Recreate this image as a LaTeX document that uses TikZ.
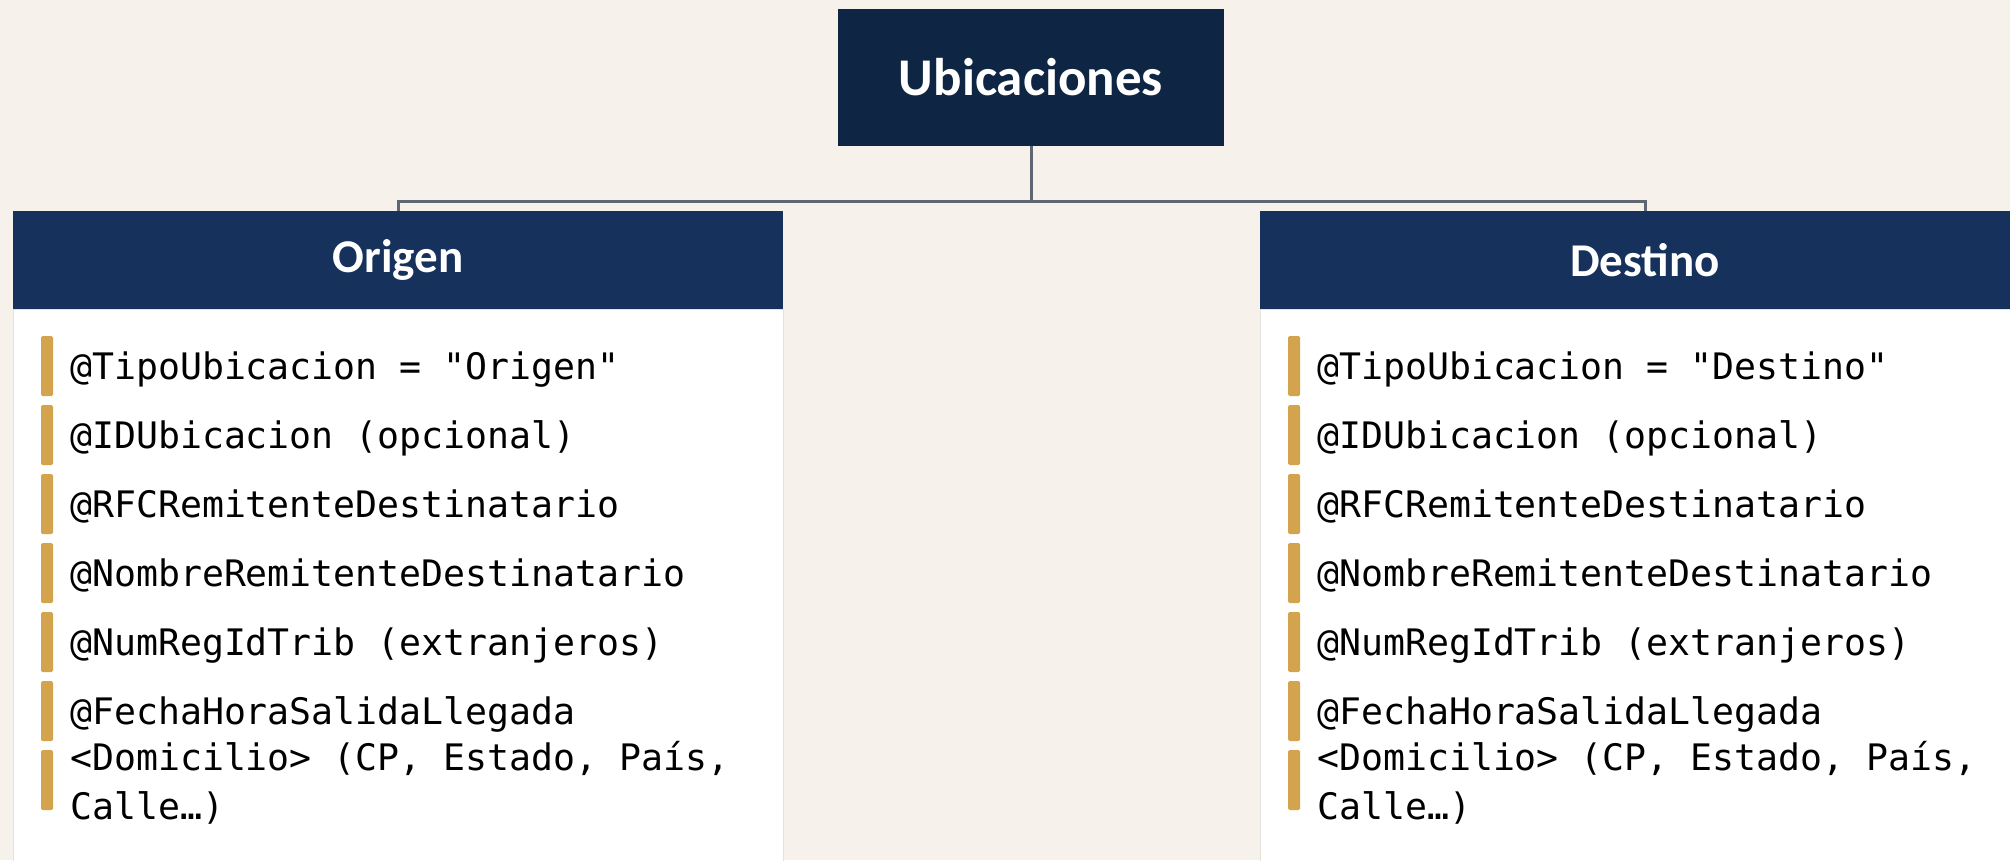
\documentclass[tikz,border=0pt]{standalone}
\usepackage{fontspec}
\newfontfamily\headfont{Carlito}
\newfontfamily\codefont{DejaVu Sans Mono}

\definecolor{pagebg}{HTML}{F6F1EB}
\definecolor{topnavy}{HTML}{0E2644}
\definecolor{headnavy}{HTML}{16315C}
\definecolor{bargold}{HTML}{D4A34E}
\definecolor{linkgray}{HTML}{5F6772}
\definecolor{edgegray}{HTML}{E6E1DA}

\begin{document}
\begin{tikzpicture}[x=1pt,y=-1pt,
  title/.style={fill=topnavy, text=white, minimum width=386pt, minimum height=137pt,
    font=\headfont\bfseries\fontsize{53}{60}\selectfont},
  header/.style={fill=headnavy, text=white, minimum width=770pt, minimum height=98pt,
    font=\headfont\bfseries\fontsize{47}{54}\selectfont},
  link/.style={draw=linkgray, line width=3pt},
  field/.style={anchor=west, inner sep=0pt, text height=26pt, text depth=0pt,
    font=\codefont\fontsize{36.5}{49}\selectfont},
  fieldwrap/.style={anchor=west, inner sep=0pt, align=left,
    font=\codefont\fontsize{36.5}{49}\selectfont},
  bar/.style={fill=bargold, rounded corners=1.5pt}]

% Page
\useasboundingbox (0,0) rectangle (2010,860);
\clip (0,0) rectangle (2010,860);
\fill[pagebg] (0,0) rectangle (2010,860);

% Panel bodies
\draw[edgegray, fill=white] (13,309) rectangle (783,880);
\draw[edgegray, fill=white] (1260,309) rectangle (2030,880);

% Boxes
\node[title] (ubic) at (1031,77.5) {Ubicaciones};
\node[header] (orig) at (398,260) {Origen};
\node[header] (dest) at (1645,260) {Destino};

% Tree lines
\coordinate (bus) at (1031,201);
\draw[link] (ubic.south) -- (bus);
\draw[link] (orig.north) |- (bus) -| (dest.north);

% Field lists
\foreach \side/\px/\kind in {o/13/Origen, d/1260/Destino} {
  \foreach \txt [count=\k] in {@TipoUbicacion = "\kind", @IDUbicacion (opcional),
      @RFCRemitenteDestinatario, @NombreRemitenteDestinatario,
      @NumRegIdTrib (extranjeros), @FechaHoraSalidaLlegada} {
    \fill[bar] ({\px+28},{336+69*(\k-1)}) rectangle ({\px+40},{396+69*(\k-1)});
    \node[field] (\side-\k) at ({\px+57},{366+69*(\k-1)}) {\txt};
  }
  \fill[bar] ({\px+28},750) rectangle ({\px+40},810);
  \node[fieldwrap] (\side-7) at ({\px+57},783) {<Domicilio> (CP, Estado, País,\\Calle…)};
}

\end{tikzpicture}
\end{document}
